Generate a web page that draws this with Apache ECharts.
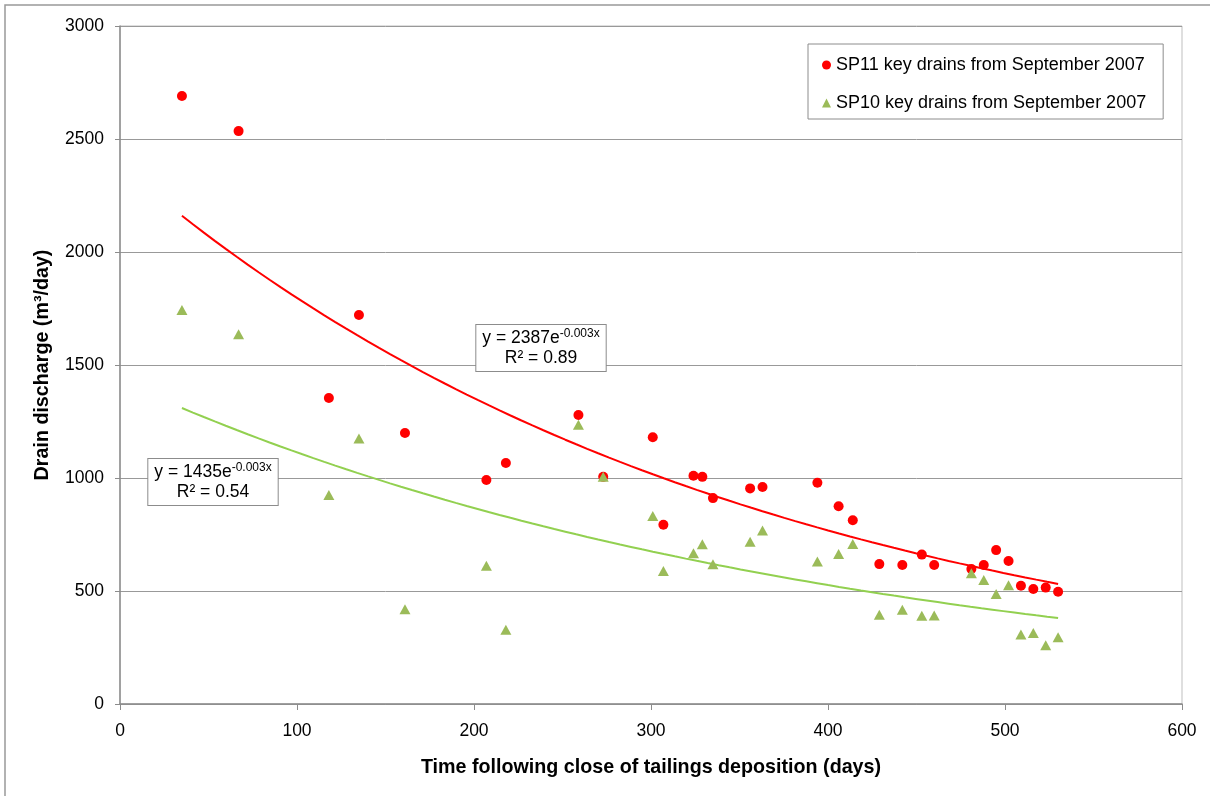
<!DOCTYPE html>
<html>
<head>
<meta charset="utf-8">
<title>Drain discharge</title>
<script src="https://cdn.jsdelivr.net/npm/echarts@6/dist/echarts.min.js"></script>
<style>
  html, body { margin: 0; padding: 0; background: #fff; }
  #chart { width: 1210px; height: 796px; }
</style>
</head>
<body>
<div id="chart"></div>
<script>
// days after close of tailings deposition (same days for both sites)
var days = [35, 67, 118, 135, 161, 207, 218, 259, 273, 301, 307, 324, 329, 335, 356, 363,
    394, 406, 414, 429, 442, 453, 460, 481, 488, 495, 502, 509, 516, 523, 530];
// SP11 key drains (m3/day)
var sp11 = [2690, 2535, 1354, 1721, 1199, 991, 1066, 1279, 1005, 1180, 793, 1010, 1005, 911, 954, 960,
    979, 875, 813, 619, 615, 661, 615, 597, 615, 681, 633, 523, 509, 515, 497];
// SP10 key drains (m3/day)
var sp10 = [1743, 1636, 925, 1175, 419, 612, 329, 1236, 1006, 832, 588, 667, 707, 618, 718, 768,
    630, 664, 708, 395, 417, 391, 392, 578, 549, 487, 525, 308, 314, 260, 295];

var names = ['SP11 key drains from September 2007', 'SP10 key drains from September 2007'];
var colors = ['#FF0000', '#9BBB59'];
var trendColors = ['#FF0000', '#92D050'];

function pairs(xs, ys) {
    return xs.map(function (x, i) { return [x, ys[i]]; });
}

// exponential trendline y = a*e^(bx), fitted on ln(y) like Excel does
function expTrend(xs, ys) {
    var n = xs.length, sx = 0, sy = 0, sxx = 0, sxy = 0;
    for (var i = 0; i < n; i++) {
        var ly = Math.log(ys[i]);
        sx += xs[i]; sy += ly; sxx += xs[i] * xs[i]; sxy += xs[i] * ly;
    }
    var b = (n * sxy - sx * sy) / (n * sxx - sx * sx);
    var a = Math.exp((sy - b * sx) / n);
    var x0 = Math.min.apply(null, xs), x1 = Math.max.apply(null, xs);
    var pts = [];
    for (var k = 0; k <= 80; k++) {
        var x = x0 + (x1 - x0) * k / 80;
        pts.push([x, a * Math.exp(b * x)]);
    }
    return pts;
}

var font = 'Liberation Sans, Arial, sans-serif';

var eqRich = {
    t: { fontSize: 17.5, fontFamily: font, color: '#000', lineHeight: 20 },
    sup: { fontSize: 12, fontFamily: font, color: '#000', lineHeight: 20, verticalAlign: 'top' }
};

function eqBox(x, y, txt) {
    return {
        type: 'text',
        x: x,
        y: y,
        z: 100,
        style: {
            text: txt,
            rich: eqRich,
            align: 'center',
            verticalAlign: 'middle',
            backgroundColor: '#fff',
            borderColor: '#8c8c8c',
            borderWidth: 1,
            padding: [3, 6, 3, 6]
        }
    };
}

var myChart = echarts.init(document.getElementById('chart'));

var option = {
    backgroundColor: '#fff',
    animation: false,
    grid: {
        left: 120,
        right: 28,
        top: 26,
        bottom: 92,
        show: true,
        borderColor: '#bfbfbf',
        borderWidth: 1
    },
    legend: {
        data: [
            { name: names[0], icon: 'circle' },
            { name: names[1], icon: 'triangle' }
        ],
        orient: 'vertical',
        left: 808,
        top: 44,
        itemWidth: 9,
        itemHeight: 9,
        itemGap: 20,
        padding: [12, 17, 7, 14],
        borderColor: '#8c8c8c',
        borderWidth: 1,
        backgroundColor: '#fff',
        textStyle: { fontSize: 18, fontFamily: font, color: '#000' }
    },
    xAxis: {
        type: 'value',
        min: 0,
        max: 600,
        interval: 100,
        name: 'Time following close of tailings deposition (days)',
        nameLocation: 'middle',
        nameGap: 54,
        nameTextStyle: { fontSize: 19.7, fontWeight: 'bold', fontFamily: font, color: '#000' },
        axisLine: { lineStyle: { color: '#8c8c8c', width: 1.5 } },
        axisTick: { show: true, length: 6, lineStyle: { color: '#8c8c8c' } },
        axisLabel: { fontSize: 17.5, fontFamily: font, color: '#000', margin: 18 },
        splitLine: { show: false }
    },
    yAxis: {
        type: 'value',
        min: 0,
        max: 3000,
        interval: 500,
        name: 'Drain discharge (m³/day)',
        nameLocation: 'middle',
        nameGap: 67,
        nameTextStyle: { fontSize: 19.7, fontWeight: 'bold', fontFamily: font, color: '#000' },
        axisLine: { show: true, lineStyle: { color: '#8c8c8c', width: 1.5 } },
        axisTick: { show: true, length: 5, lineStyle: { color: '#8c8c8c' } },
        axisLabel: {
            fontSize: 17.5, fontFamily: font, color: '#000', margin: 16,
            formatter: function (v) { return String(v); }
        },
        splitLine: { show: true, lineStyle: { color: '#999', width: 1 } }
    },
    series: [{
        name: names[0] + ' trend',
        type: 'line',
        data: expTrend(days, sp11),
        showSymbol: false,
        lineStyle: { color: trendColors[0], width: 2 },
        z: 3
    }, {
        name: names[1] + ' trend',
        type: 'line',
        data: expTrend(days, sp10),
        showSymbol: false,
        lineStyle: { color: trendColors[1], width: 2 },
        z: 3
    }, {
        name: names[0],
        type: 'scatter',
        symbol: 'circle',
        symbolSize: 10,
        itemStyle: { color: colors[0], opacity: 1 },
        data: pairs(days, sp11),
        z: 4
    }, {
        name: names[1],
        type: 'scatter',
        symbol: 'triangle',
        symbolSize: [11, 10],
        itemStyle: { color: colors[1], opacity: 1 },
        data: pairs(days, sp10),
        z: 5
    }],
    graphic: [{
        type: 'rect',
        shape: { x: 5, y: 5, width: 1220, height: 820 },
        style: { fill: 'none', stroke: '#999', lineWidth: 1.5 },
        silent: true
    },
    eqBox(541, 348, '{t|y = 2387e}{sup|-0.003x}\n{t|R² = 0.89}'),
    eqBox(213, 482, '{t|y = 1435e}{sup|-0.003x}\n{t|R² = 0.54}')
    ]
};

myChart.setOption(option);
</script>
</body>
</html>
